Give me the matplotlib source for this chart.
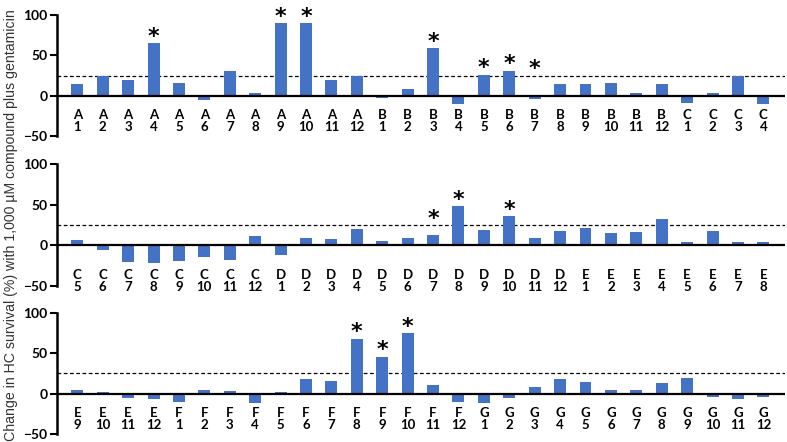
import matplotlib.pyplot as plt

# wells per panel (row letter + column number) and change in HC survival (%)
labels1 = ["A1", "A2", "A3", "A4", "A5", "A6", "A7", "A8", "A9", "A10", "A11", "A12",
           "B1", "B2", "B3", "B4", "B5", "B6", "B7", "B8", "B9", "B10", "B11", "B12",
           "C1", "C2", "C3", "C4"]
values1 = [15, 25, 19, 65, 16, -5, 31, 4, 90, 90, 19, 25,
           -3, 8, 59, -10, 26, 31, -4, 15, 14, 16, 4, 14,
           -9, 4, 25, -10]
stars1 = ["A4", "A9", "A10", "B3", "B5", "B6", "B7"]

labels2 = ["C5", "C6", "C7", "C8", "C9", "C10", "C11", "C12",
           "D1", "D2", "D3", "D4", "D5", "D6", "D7", "D8", "D9", "D10", "D11", "D12",
           "E1", "E2", "E3", "E4", "E5", "E6", "E7", "E8"]
values2 = [7, -6, -21, -22, -19, -15, -18, 11,
           -12, 9, 8, 20, 5, 9, 12, 48, 19, 36, 9, 17,
           21, 15, 16, 33, 4, 17, 4, 4]
stars2 = ["D7", "D8", "D10"]

labels3 = ["E9", "E10", "E11", "E12",
           "F1", "F2", "F3", "F4", "F5", "F6", "F7", "F8", "F9", "F10", "F11", "F12",
           "G1", "G2", "G3", "G4", "G5", "G6", "G7", "G8", "G9", "G10", "G11", "G12"]
values3 = [4, 2, -5, -6, -10, 5, 3, -11, 2, 18, 16, 68, 46, 75, 11, -10,
           -11, -5, 8, 18, 15, 4, 4, 13, 19, -4, -6, -4]
stars3 = ["F8", "F9", "F10"]

threshold = 25
bar_color = "#4472C4"

plt.rcParams['font.family'] = ['Lato', 'DejaVu Sans']

fig = plt.figure(figsize=(7.87, 4.42), dpi=100)
tops = [0.966, 0.628, 0.292]
label_y = [-17, -29, -17]
panels = [(labels1, values1, stars1), (labels2, values2, stars2), (labels3, values3, stars3)]

for top, ly, (labs, vals, stars) in zip(tops, label_y, panels):
    ax = fig.add_axes([0.0724, top - 0.274, 0.925, 0.274])
    x = list(range(len(labs)))
    ax.bar(x, vals, width=0.47, color=bar_color, zorder=2)
    ax.axhline(0, color="black", lw=1.6, zorder=3)
    ax.axhline(threshold, color="black", lw=0.9, ls=(0, (3, 2)), zorder=1)
    ax.set_ylim(-50, 100)
    ax.set_xlim(-0.8, len(labs) - 0.15)
    ax.set_yticks([-50, 0, 50, 100])
    ax.set_yticklabels(["\u221250", "0", "50", "100"], fontsize=10, fontweight="bold")
    ax.tick_params(axis="y", length=5, width=1.5, pad=2)
    ax.set_xticks([])
    for s in ["top", "right", "bottom"]:
        ax.spines[s].set_visible(False)
    ax.spines["left"].set_linewidth(1.8)
    for i, lab in enumerate(labs):
        ax.text(i, ly, lab[0] + "\n" + lab[1:], ha="center", va="top",
                fontsize=9.5, fontweight="bold", linespacing=1.0)
    for lab in stars:
        i = labs.index(lab)
        ax.text(i, max(vals[i], threshold) + 0.5, "*", ha="center", va="baseline",
                fontsize=16, fontweight="bold", family="DejaVu Sans", clip_on=False)

fig.text(0.014, 0.003, "Change in HC survival (%) with 1,000 \u00b5M compound plus gentamicin",
         rotation=90, ha="center", va="bottom", fontsize=10.2, color="#333333",
         family=["Liberation Sans", "DejaVu Sans"])

fig.savefig("out.png", dpi=100)
